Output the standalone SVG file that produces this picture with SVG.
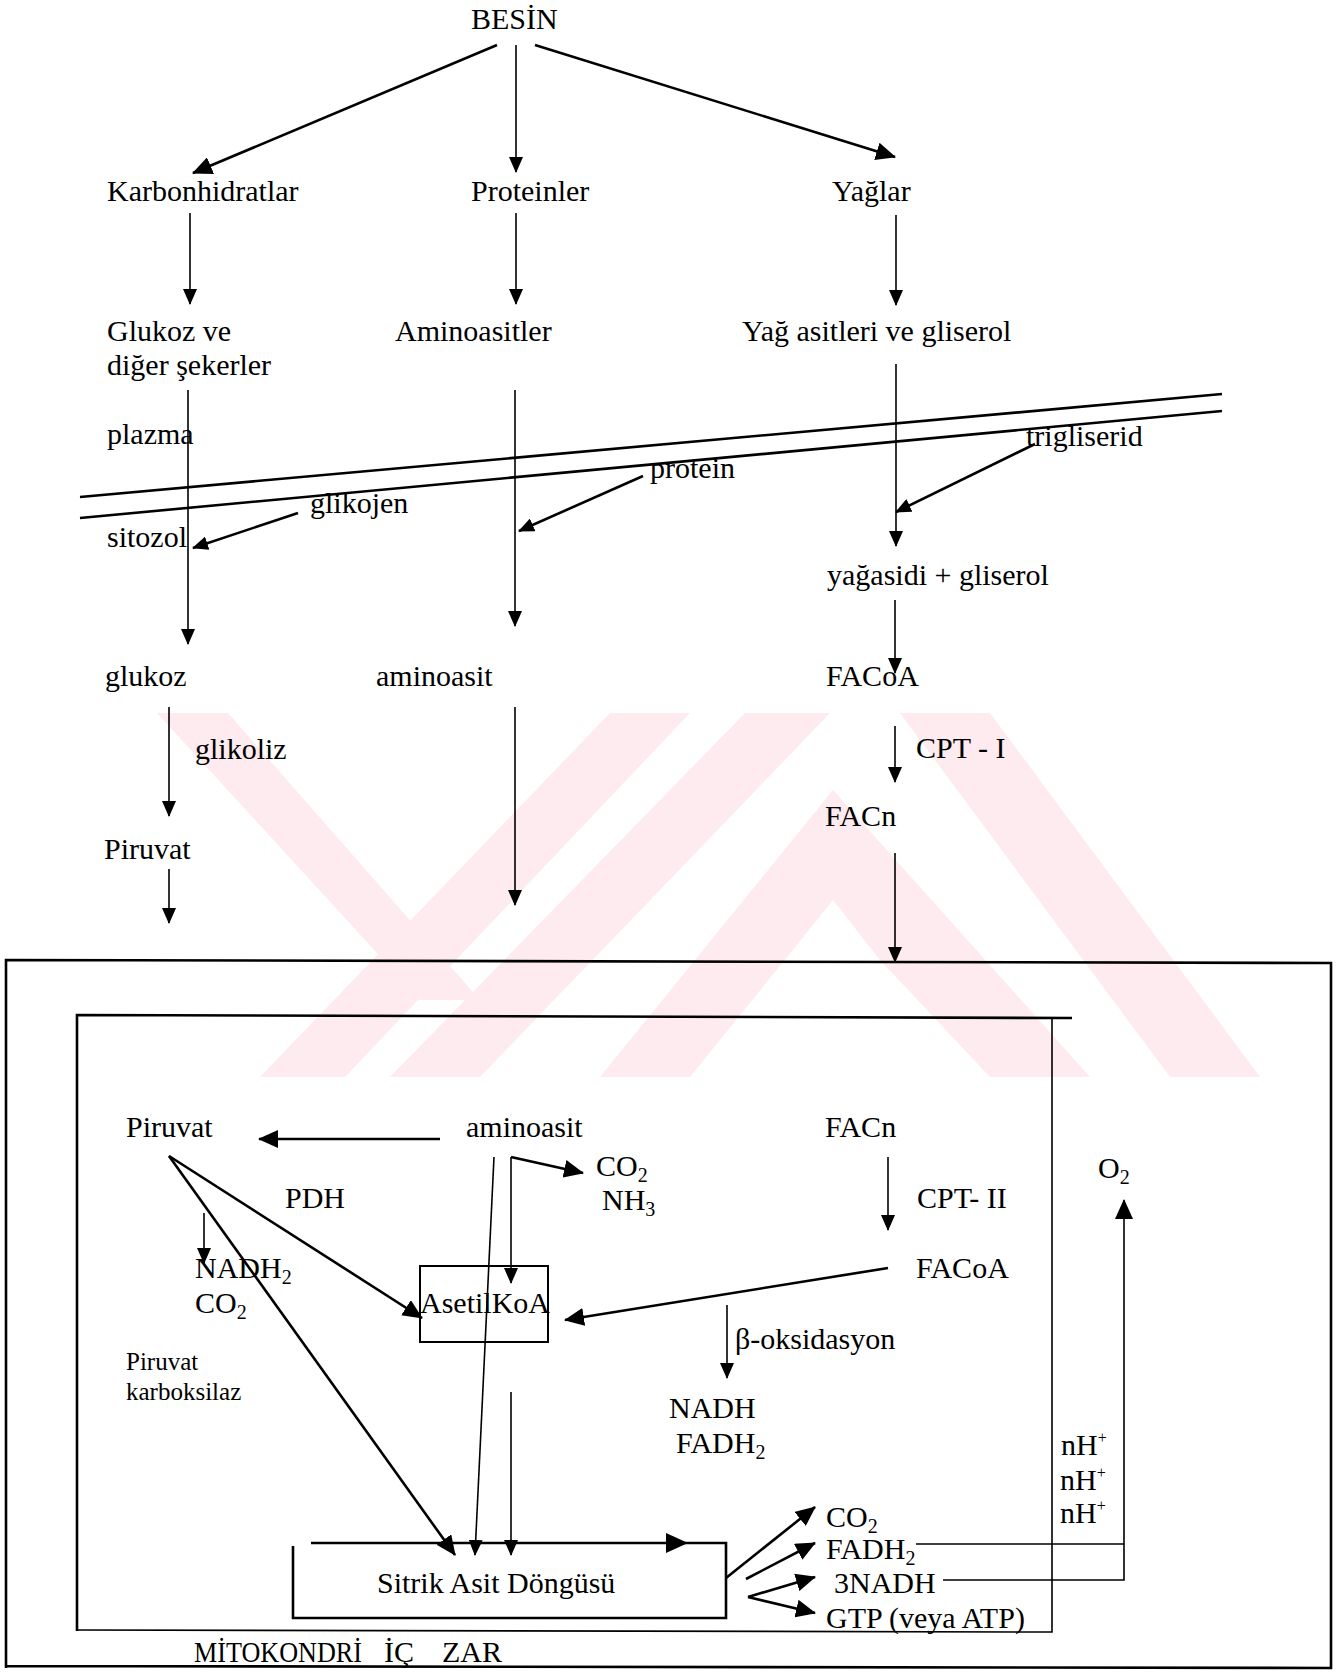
<svg xmlns="http://www.w3.org/2000/svg" width="1338" height="1675" viewBox="0 0 1338 1675">
<defs>
<style>
text{font-family:"Liberation Serif","Times New Roman",serif;font-size:30px;fill:#000}
.sm{font-size:25px}
.ln{stroke:#000;stroke-width:1.6;fill:none}
.th{stroke:#000;stroke-width:2.6;fill:none}
.wm{fill:#fdebef}
</style>
<marker id="ah" markerUnits="userSpaceOnUse" markerWidth="16" markerHeight="14" refX="15" refY="7" orient="auto" viewBox="0 0 16 14">
<path d="M0,0 L16,7 L0,14 z" fill="#000"/>
</marker>
<marker id="ahb" markerUnits="userSpaceOnUse" markerWidth="20" markerHeight="18" refX="19" refY="9" orient="auto" viewBox="0 0 20 18">
<path d="M0,0 L20,9 L0,18 z" fill="#000"/>
</marker>
</defs>
<rect width="1338" height="1675" fill="#fff"/>
<g id="watermark">
<polygon class="wm" points="157,713 228,713 480,1000 420,1000"/>
<polygon class="wm" points="260,1077 345,1077 690,713 610,713"/>
<polygon class="wm" points="390,1077 480,1077 830,713 745,713"/>
<polygon class="wm" points="600,1077 690,1077 833,900 880,960 990,1077 1090,1077 833,790"/>
<polygon class="wm" points="900,713 990,713 1260,1077 1170,1077"/>
</g>
<g id="membrane">
<line class="th" x1="80" y1="497" x2="1222" y2="394"/>
<line class="th" x1="80" y1="518" x2="1222" y2="411"/>
</g>
<g id="mito-outer">
<polyline class="th" points="6,1668 6,960 1331,963 1331,1668 6,1666"/>
</g>
<g id="mito-inner">
<polyline class="th" points="77,1631 77,1015 1072,1018"/>
<polyline class="ln" points="1052,1018 1052,1632 77,1630"/>
</g>
<g id="connectors">
<line class="th" x1="497" y1="45" x2="193" y2="173" marker-end="url(#ahb)"/>
<line class="ln" x1="516" y1="45" x2="516" y2="172" marker-end="url(#ah)"/>
<line class="th" x1="535" y1="45" x2="895" y2="157" marker-end="url(#ahb)"/>
<line class="ln" x1="190" y1="213" x2="190" y2="304" marker-end="url(#ah)"/>
<line class="ln" x1="516" y1="213" x2="516" y2="304" marker-end="url(#ah)"/>
<line class="ln" x1="896" y1="215" x2="896" y2="305" marker-end="url(#ah)"/>
<line class="ln" x1="188" y1="390" x2="188" y2="644" marker-end="url(#ah)"/>
<line class="ln" x1="515" y1="390" x2="515" y2="626" marker-end="url(#ah)"/>
<line class="ln" x1="896" y1="364" x2="896" y2="546" marker-end="url(#ah)"/>
<line class="th" x1="298" y1="513" x2="193" y2="548" marker-end="url(#ah)"/>
<line class="th" x1="643" y1="476" x2="519" y2="531" marker-end="url(#ah)"/>
<line class="th" x1="1035" y1="444" x2="896" y2="512" marker-end="url(#ah)"/>
<line class="ln" x1="895" y1="600" x2="895" y2="673" marker-end="url(#ah)"/>
<line class="ln" x1="169" y1="707" x2="169" y2="816" marker-end="url(#ah)"/>
<line class="ln" x1="515" y1="707" x2="515" y2="905" marker-end="url(#ah)"/>
<line class="ln" x1="895" y1="726" x2="895" y2="782" marker-end="url(#ah)"/>
<line class="ln" x1="169" y1="869" x2="169" y2="923" marker-end="url(#ah)"/>
<line class="ln" x1="895" y1="853" x2="895" y2="962" marker-end="url(#ah)"/>
<line class="th" x1="440" y1="1139" x2="259" y2="1139" marker-end="url(#ahb)"/>
<line class="th" x1="169" y1="1156" x2="422" y2="1318" marker-end="url(#ahb)"/>
<line class="th" x1="169" y1="1156" x2="455" y2="1555" marker-end="url(#ahb)"/>
<line class="ln" x1="204" y1="1213" x2="204" y2="1263" marker-end="url(#ah)"/>
<line class="th" x1="511" y1="1157" x2="583" y2="1173" marker-end="url(#ahb)"/>
<line class="ln" x1="511" y1="1157" x2="511" y2="1283" marker-end="url(#ah)"/>
<line class="ln" x1="494" y1="1157" x2="475" y2="1555" marker-end="url(#ah)"/>
<line class="ln" x1="511" y1="1392" x2="511" y2="1555" marker-end="url(#ah)"/>
<line class="ln" x1="888" y1="1157" x2="888" y2="1230" marker-end="url(#ah)"/>
<line class="th" x1="888" y1="1268" x2="565" y2="1320" marker-end="url(#ahb)"/>
<line class="ln" x1="727" y1="1305" x2="727" y2="1378" marker-end="url(#ah)"/>
<line class="th" x1="726" y1="1578" x2="815" y2="1507" marker-end="url(#ahb)"/>
<line class="th" x1="746" y1="1579" x2="815" y2="1543" marker-end="url(#ahb)"/>
<line class="th" x1="748" y1="1597" x2="815" y2="1577" marker-end="url(#ahb)"/>
<line class="th" x1="748" y1="1597" x2="815" y2="1613" marker-end="url(#ahb)"/>
<line class="ln" x1="916" y1="1544" x2="1124" y2="1544"/>
<polyline class="ln" points="943,1580 1124,1580 1124,1200" marker-end="url(#ahb)"/>
</g>
<g id="node-besin"><text x="471" y="29">BESİN</text></g>
<g id="node-karbonhidratlar"><text x="107" y="201">Karbonhidratlar</text></g>
<g id="node-proteinler"><text x="471" y="201">Proteinler</text></g>
<g id="node-yaglar"><text x="832" y="201">Yağlar</text></g>
<g id="node-glukozve"><text x="107" y="341">Glukoz ve</text><text x="107" y="375">diğer şekerler</text></g>
<g id="node-aminoasitler"><text x="395" y="341">Aminoasitler</text></g>
<g id="node-yagasitleri"><text x="742" y="341">Yağ asitleri ve gliserol</text></g>
<g id="label-plazma"><text x="107" y="444">plazma</text></g>
<g id="label-sitozol"><text x="107" y="547">sitozol</text></g>
<g id="node-glikojen"><text x="310" y="513">glikojen</text></g>
<g id="node-protein"><text x="650" y="478">protein</text></g>
<g id="node-trigliserid"><text x="1026" y="446">trigliserid</text></g>
<g id="node-yagasidi"><text x="827" y="585">yağasidi + gliserol</text></g>
<g id="node-glukoz"><text x="105" y="686">glukoz</text></g>
<g id="node-aminoasit1"><text x="376" y="686">aminoasit</text></g>
<g id="node-facoa1"><text x="826" y="686">FACoA</text></g>
<g id="label-glikoliz"><text x="195" y="759">glikoliz</text></g>
<g id="label-cpt1"><text x="916" y="758">CPT - I</text></g>
<g id="node-facn1"><text x="825" y="826">FACn</text></g>
<g id="node-piruvat1"><text x="104" y="859">Piruvat</text></g>
<g id="node-piruvat2"><text x="126" y="1137">Piruvat</text></g>
<g id="node-aminoasit2"><text x="466" y="1137">aminoasit</text></g>
<g id="node-facn2"><text x="825" y="1137">FACn</text></g>
<g id="node-co2nh3"><text x="596" y="1176">CO<tspan font-size="20" dy="6">2</tspan></text><text x="602" y="1210">NH<tspan font-size="20" dy="6">3</tspan></text></g>
<g id="label-pdh"><text x="285" y="1208">PDH</text></g>
<g id="label-cpt2"><text x="917" y="1208">CPT- II</text></g>
<g id="node-o2"><text x="1098" y="1178">O<tspan font-size="20" dy="6">2</tspan></text></g>
<g id="node-nadh2co2"><text x="195" y="1278">NADH<tspan font-size="20" dy="6">2</tspan></text><text x="195" y="1313">CO<tspan font-size="20" dy="6">2</tspan></text></g>
<g id="node-asetilkoa"><rect x="420" y="1266" width="128" height="76" fill="none" stroke="#000" stroke-width="2"/><text x="420" y="1313" textLength="130">AsetilKoA</text></g>
<g id="node-facoa2"><text x="916" y="1278">FACoA</text></g>
<g id="label-boks"><text x="735" y="1349">β-oksidasyon</text></g>
<g id="label-piruvatkarb"><text class="sm" x="126" y="1370">Piruvat</text><text class="sm" x="126" y="1400">karboksilaz</text></g>
<g id="node-nadhfadh"><text x="669" y="1418">NADH</text><text x="676" y="1453">FADH<tspan font-size="20" dy="6">2</tspan></text></g>
<g id="node-nh"><text x="1061" y="1455">nH<tspan font-size="16" dy="-12">+</tspan></text><text x="1060" y="1490">nH<tspan font-size="16" dy="-12">+</tspan></text><text x="1060" y="1523">nH<tspan font-size="16" dy="-12">+</tspan></text></g>
<g id="node-sitrik">
<polyline class="th" points="311,1543 726,1543 726,1618 293,1618 293,1546"/>
<path d="M666,1533 L688,1543 L666,1553 z" fill="#000"/>
<text x="377" y="1593">Sitrik Asit Döngüsü</text>
</g>
<g id="node-outputs">
<text x="826" y="1527">CO<tspan font-size="20" dy="6">2</tspan></text>
<text x="826" y="1559">FADH<tspan font-size="20" dy="6">2</tspan></text>
<text x="834" y="1593">3NADH</text>
<text x="826" y="1628">GTP (veya ATP)</text>
</g>
<g id="label-mito"><text x="194" y="1662" textLength="168" lengthAdjust="spacingAndGlyphs">MİTOKONDRİ</text><text x="384" y="1662">İÇ</text><text x="442" y="1662">ZAR</text></g>
</svg>
